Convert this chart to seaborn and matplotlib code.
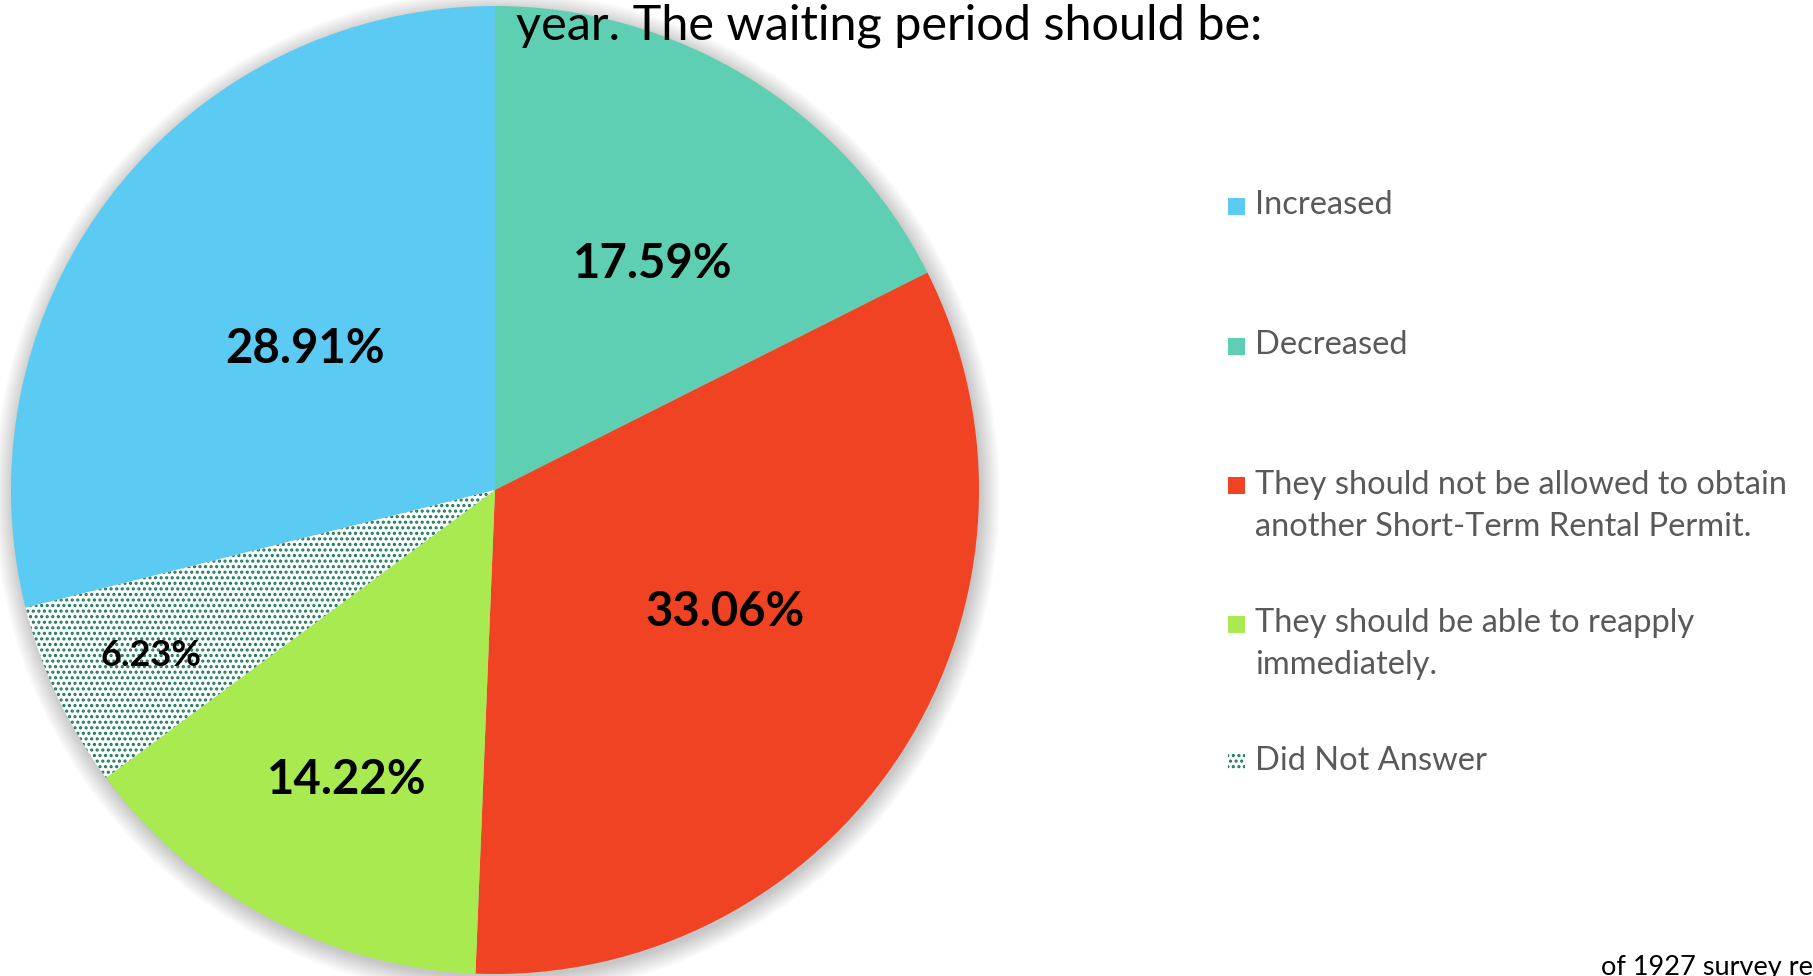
import numpy as np
import matplotlib.pyplot as plt
import seaborn as sns
from matplotlib.patches import Circle, Rectangle

# Setup
sns.set_theme(style="white")
plt.rcParams['font.family'] = ['Lato', 'DejaVu Sans']
plt.rcParams['hatch.linewidth'] = 1.5

# Data
categories = ['Increased', 'Decreased',
              'They should not be allowed to obtain\nanother Short-Term Rental Permit.',
              'They should be able to reapply\nimmediately.',
              'Did Not Answer']
shares = [28.91, 17.59, 33.06, 14.22, 6.23]
colors = ['#5BCBF4', '#5ECFB2', '#F04324', '#A8EA50', 'white']

# label placement ("best fit" look): distance from centre, angle nudge, size
label_dist = [0.494, 0.576, 0.535, 0.666, 0.785]
label_nudge = [0.5, -2.7, 5.7, 0.6, 0.0]
label_size = [34, 34, 34, 34, 26]

W, H = 1813, 976
fig = plt.figure(figsize=(W / 100, H / 100), dpi=100)

# pie axes: centre (495, 490) px, radius 484 px
cx, cy, R = 495, 490, 484
ax = fig.add_axes([(cx - R) / W, (H - cy - R) / H, 2 * R / W, 2 * R / H])

# soft shadow behind the pie
for i in range(14):
    ax.add_patch(Circle((0.004, -0.008), 1.0 + i * 0.003, color='black',
                        alpha=0.014, lw=0, zorder=0, clip_on=False))

start = 90 + shares[0] * 3.6
wedges, _ = ax.pie(shares, colors=colors, startangle=start, counterclock=False,
                   radius=1, wedgeprops=dict(linewidth=0))
for w in wedges:
    w.set_zorder(2)
wedges[4].set_hatch('...')
wedges[4].set_edgecolor('#187A58')

ax.set_xlim(-1, 1)
ax.set_ylim(-1, 1)
ax.set_aspect('equal')
ax.axis('off')

for w, val, d, nd, s in zip(wedges, shares, label_dist, label_nudge, label_size):
    ang = np.deg2rad((w.theta1 + w.theta2) / 2 + nd)
    ax.text(d * np.cos(ang), d * np.sin(ang), f"{val:.2f}%", ha='center',
            va='center_baseline', fontsize=s, fontweight='bold', color='black', zorder=5)

# legend, drawn by hand in pixel positions
leg_y = [205.5, 345.5, 484.5, 623.5, 760.5]
for w, lab, y in zip(wedges, categories, leg_y):
    sq = Rectangle((1228 / W, 1 - (y + 9) / H), 17 / W, 17 / H, transform=fig.transFigure,
                   facecolor=w.get_facecolor(), edgecolor=w.get_edgecolor(),
                   hatch=w.get_hatch(), linewidth=0)
    fig.patches.append(sq)
    fig.text(1255 / W, 1 - (y - 15) / H, lab, ha='left', va='top', fontsize=23.5,
             color='#595959', linespacing=1.5)

# title fragment and footnote fragment (cut by the canvas)
fig.text(889 / W, 1 - 39.5 / H, "year. The waiting period should be:", ha='center',
         va='baseline', fontsize=35, color='black', zorder=10)
fig.text(1601 / W, 1 - 975 / H, "of 1927 survey respondents", ha='left',
         va='baseline', fontsize=19.5, color='black')

fig.savefig("out.png", dpi=100)
